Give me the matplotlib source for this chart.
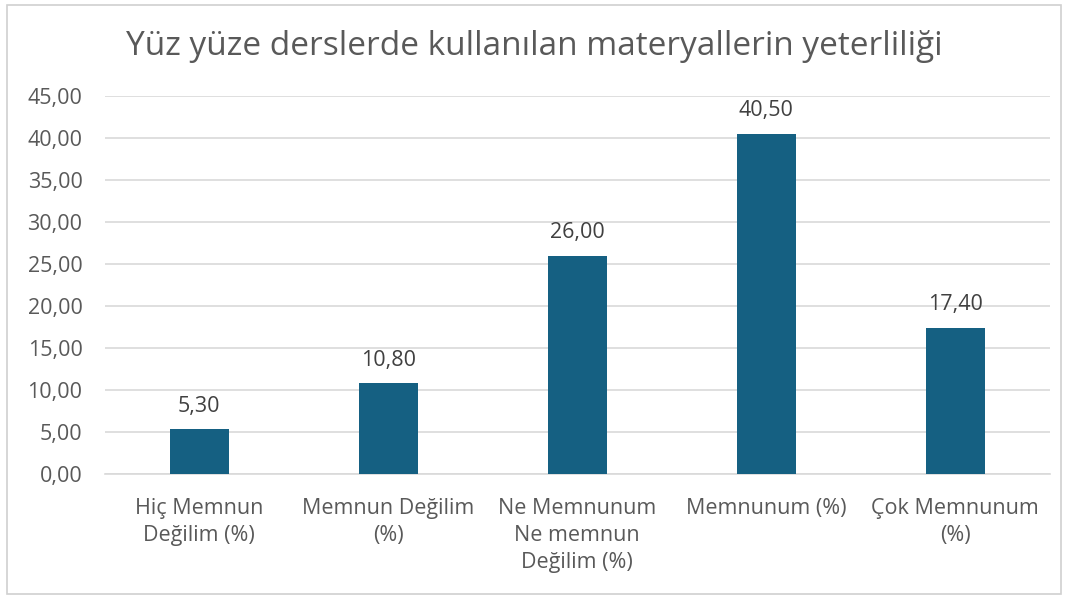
import matplotlib.pyplot as plt
from matplotlib.patches import Rectangle

plt.rcParams['font.family'] = ['Open Sans', 'DejaVu Sans']

categories = ['Hiç Memnun\nDeğilim (%)', 'Memnun Değilim\n(%)',
              'Ne Memnunum\nNe memnun\nDeğilim (%)', 'Memnunum (%)',
              'Çok Memnunum\n(%)']
values = [5.30, 10.80, 26.00, 40.50, 17.40]
yticks = [0, 5, 10, 15, 20, 25, 30, 35, 40, 45]

text_color = '#595959'
bar_color = '#156082'
grid_color = '#d9d9d9'

fig = plt.figure(figsize=(10.69, 5.99), dpi=100)
ax = fig.add_axes([0.098, 0.2087, 0.884, 0.631])

# рамка вокруг всей диаграммы
fig.patches.append(Rectangle((7 / 1069, 5 / 599), 1054 / 1069, 589 / 599,
                             transform=fig.transFigure, fill=False,
                             edgecolor='#d0d0d0', linewidth=1.2))

x = range(len(values))
bars = ax.bar(x, values, width=0.31, color=bar_color, zorder=3)

for xi, v in zip(x, values):
    ax.text(xi, v + 1.5, f'{v:.2f}'.replace('.', ','), ha='center', va='bottom',
            fontsize=15.5, color='#404040')

ax.set_xlim(-0.5, len(values) - 0.5)
ax.set_ylim(0, 45)
ax.set_yticks(yticks)
ax.set_yticklabels([f'{t:.2f}'.replace('.', ',') for t in yticks])
ax.set_xticks(list(x))
ax.set_xticklabels(categories, linespacing=1.4)
ax.tick_params(axis='both', length=0, labelsize=15.5, labelcolor=text_color)
ax.tick_params(axis='x', pad=17)
ax.tick_params(axis='y', pad=16)

ax.grid(axis='y', color=grid_color, linewidth=1.2, zorder=0)
for s in ['top', 'right', 'left']:
    ax.spines[s].set_visible(False)
ax.spines['bottom'].set_color(grid_color)
ax.spines['bottom'].set_linewidth(1.2)

fig.text(0.5, 0.922, 'Yüz yüze derslerde kullanılan materyallerin yeterliliği',
         ha='center', va='center', fontsize=24, color=text_color)

fig.savefig('out.png', dpi=100)
